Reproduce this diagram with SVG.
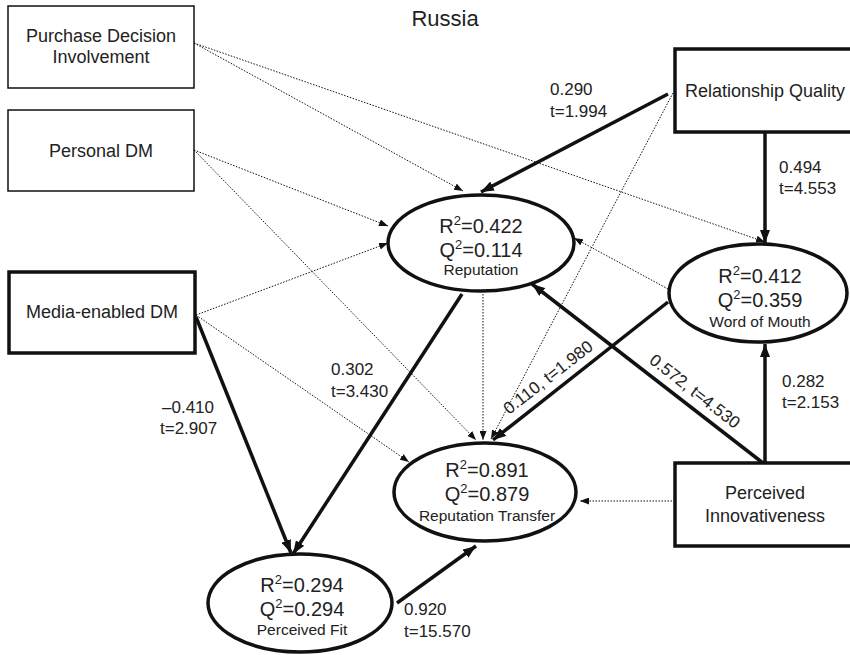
<svg xmlns="http://www.w3.org/2000/svg" width="850" height="655" viewBox="0 0 850 655">
<style>
  .box-thin { fill: #fff; stroke: #111; stroke-width: 1.5; }
  .box-thick { fill: #fff; stroke: #111; stroke-width: 3.5; }
  .ell { fill: #fff; stroke: #111; stroke-width: 3.5; }
  .dot { fill: none; stroke: #111; stroke-width: 1; stroke-dasharray: 1.5 1.5; marker-end: url(#ahs); }
  .thick { fill: none; stroke: #111; stroke-width: 3.5; marker-end: url(#ahl); }
  text { font-family: "Liberation Sans", Arial, Helvetica, sans-serif; fill: #222; }
  .bt { font-size: 18px; text-anchor: middle; }
  .val { font-size: 20px; text-anchor: middle; }
  .name { font-size: 15.5px; text-anchor: middle; }
  .lab { font-size: 17px; }
  .rl { font-size: 17px; text-anchor: middle; }
</style>
<defs>
  <marker id="ahs" markerUnits="userSpaceOnUse" markerWidth="9" markerHeight="7" refX="9" refY="3.5" orient="auto">
    <path d="M0,0 L9,3.5 L0,7 z" fill="#111"/>
  </marker>
  <marker id="ahl" markerUnits="userSpaceOnUse" markerWidth="13" markerHeight="10" refX="13" refY="5" orient="auto">
    <path d="M0,0 L13,5 L0,10 z" fill="#111"/>
  </marker>
</defs>

<text x="445" y="26" style="font-size:22px;text-anchor:middle">Russia</text>

<g id="connectors">
  <line class="dot" x1="194" y1="43" x2="463" y2="191"/>
  <line class="dot" x1="194" y1="43" x2="765" y2="242"/>
  <line class="dot" x1="194" y1="150" x2="388" y2="226"/>
  <line class="dot" x1="194" y1="150" x2="476" y2="440"/>
  <line class="dot" x1="196" y1="315" x2="388" y2="243"/>
  <line class="dot" x1="196" y1="315" x2="409" y2="462"/>
  <line class="dot" x1="673" y1="93" x2="491" y2="439"/>
  <line class="dot" x1="483" y1="294" x2="483" y2="440"/>
  <line class="dot" x1="668" y1="289" x2="574" y2="238"/>
  <line class="dot" x1="675" y1="501" x2="580" y2="501"/>

  <line class="thick" x1="668" y1="94" x2="481" y2="192"/>
  <line class="thick" x1="765" y1="132" x2="765" y2="243"/>
  <line class="thick" x1="668" y1="302" x2="493" y2="440"/>
  <line class="thick" x1="765" y1="463" x2="765" y2="344"/>
  <line class="thick" x1="763" y1="463" x2="532" y2="284"/>
  <line class="thick" x1="196" y1="317" x2="291" y2="553"/>
  <line class="thick" x1="462" y1="294" x2="293" y2="554"/>
  <line class="thick" x1="397" y1="603" x2="476" y2="546"/>
</g>

<g id="labels">
  <text class="lab" x="550" y="95">0.290</text>
  <text class="lab" x="550" y="117">t=1.994</text>
  <text class="lab" x="779" y="173">0.494</text>
  <text class="lab" x="779" y="194">t=4.553</text>
  <text class="lab" x="782" y="387">0.282</text>
  <text class="lab" x="782" y="408">t=2.153</text>
  <text class="lab" x="162" y="413">–0.410</text>
  <text class="lab" x="160" y="434">t=2.907</text>
  <text class="lab" x="331" y="375">0.302</text>
  <text class="lab" x="331" y="397">t=3.430</text>
  <text class="lab" x="404" y="615">0.920</text>
  <text class="lab" x="404" y="637">t=15.570</text>
  <text class="rl" transform="translate(548,377) rotate(-37.9)" x="0" y="6">0.110, t=1.980</text>
  <text class="rl" transform="translate(695,391) rotate(37.9)" x="0" y="6">0.572, t=4.530</text>
</g>

<g id="pdi">
  <rect class="box-thin" x="8" y="6" width="186" height="82"/>
  <text class="bt" x="101" y="42">Purchase Decision</text>
  <text class="bt" x="101" y="63">Involvement</text>
</g>
<g id="pdm">
  <rect class="box-thin" x="8" y="110" width="186" height="81"/>
  <text class="bt" x="101" y="157">Personal DM</text>
</g>
<g id="mdm">
  <rect class="box-thick" x="9" y="272" width="186" height="81"/>
  <text class="bt" x="102" y="318">Media-enabled DM</text>
</g>
<g id="rq">
  <rect class="box-thick" x="675" y="49" width="182" height="83"/>
  <text class="bt" x="765" y="97">Relationship Quality</text>
</g>
<g id="pi">
  <rect class="box-thick" x="675" y="463" width="182" height="83"/>
  <text class="bt" x="765" y="499">Perceived</text>
  <text class="bt" x="765" y="522">Innovativeness</text>
</g>

<g id="reputation">
  <ellipse class="ell" cx="481" cy="243" rx="93" ry="48"/>
  <text class="val" x="481" y="233">R<tspan dy="-8" font-size="13">2</tspan><tspan dy="8">=0.422</tspan></text>
  <text class="val" x="481" y="257">Q<tspan dy="-8" font-size="13">2</tspan><tspan dy="8">=0.114</tspan></text>
  <text class="name" x="481" y="275">Reputation</text>
</g>
<g id="wom">
  <ellipse class="ell" cx="758" cy="293" rx="89" ry="49"/>
  <text class="val" x="760" y="283">R<tspan dy="-8" font-size="13">2</tspan><tspan dy="8">=0.412</tspan></text>
  <text class="val" x="760" y="307">Q<tspan dy="-8" font-size="13">2</tspan><tspan dy="8">=0.359</tspan></text>
  <text class="name" x="760" y="327">Word of Mouth</text>
</g>
<g id="rt">
  <ellipse class="ell" cx="485" cy="492" rx="91" ry="49"/>
  <text class="val" x="487" y="477">R<tspan dy="-8" font-size="13">2</tspan><tspan dy="8">=0.891</tspan></text>
  <text class="val" x="487" y="501">Q<tspan dy="-8" font-size="13">2</tspan><tspan dy="8">=0.879</tspan></text>
  <text class="name" x="487" y="521">Reputation Transfer</text>
</g>
<g id="pf">
  <ellipse class="ell" cx="300" cy="603" rx="92" ry="49"/>
  <text class="val" x="302" y="592">R<tspan dy="-8" font-size="13">2</tspan><tspan dy="8">=0.294</tspan></text>
  <text class="val" x="302" y="616">Q<tspan dy="-8" font-size="13">2</tspan><tspan dy="8">=0.294</tspan></text>
  <text class="name" x="302" y="635">Perceived Fit</text>
</g>
</svg>
